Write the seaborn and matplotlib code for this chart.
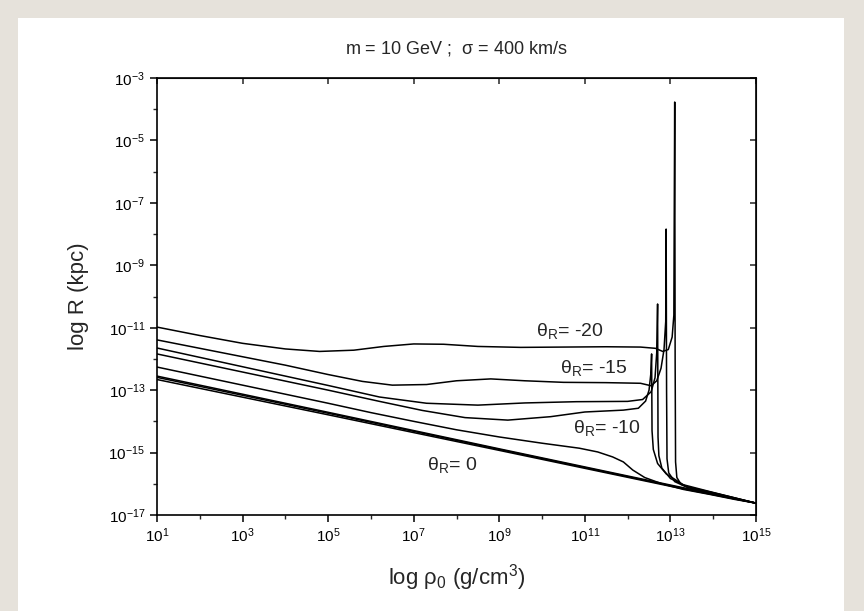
import numpy as np
import pandas as pd
import matplotlib
matplotlib.use("Agg")
import matplotlib.pyplot as plt
import matplotlib.patches as patches
import seaborn as sns
from matplotlib.ticker import FixedLocator, FuncFormatter, NullFormatter

# log10(rho0 [g/cm3]) and log10(R [kpc]), one pair per theta_R
lx_m20 = [1, 2, 3, 4, 4.8, 5.6, 6.3, 7.0, 7.7, 8.5, 9.5, 10.5, 11.5, 12.3, 12.65, 12.82,
          12.95, 13.04, 13.08, 13.1, 13.11, 13.12, 13.15, 13.25, 13.5, 13.92, 14.5, 15]
ly_m20 = [-10.98, -11.25, -11.5, -11.68, -11.76, -11.72, -11.6, -11.52, -11.53, -11.6, -11.63,
          -11.62, -11.61, -11.62, -11.66, -11.76, -11.7, -11.3, -10.6, -3.77, -12.0, -15.3,
          -15.8, -16.02, -16.15, -16.28, -16.47, -16.62]

lx_m15 = [1, 2, 3, 4, 5, 5.8, 6.5, 7.3, 8.0, 8.8, 9.6, 10.5, 11.5, 12.3, 12.55, 12.68, 12.78,
          12.85, 12.89, 12.9, 12.91, 12.92, 12.96, 13.1, 13.4, 13.92, 14.5, 15]
ly_m15 = [-11.39, -11.66, -11.93, -12.2, -12.5, -12.72, -12.84, -12.82, -12.7, -12.64, -12.7,
          -12.75, -12.76, -12.78, -12.86, -12.7, -12.3, -11.7, -10.8, -7.84, -13.0, -15.2,
          -15.65, -15.93, -16.12, -16.27, -16.46, -16.62]

lx_m12 = [1, 2, 3, 4, 5, 6.2, 7.3, 8.5, 9.6, 10.8, 12.0, 12.35, 12.55, 12.64, 12.68, 12.7,
          12.71, 12.73, 12.8, 13.0, 13.4, 13.92, 14.5, 15]
ly_m12 = [-11.65, -11.95, -12.25, -12.55, -12.85, -13.22, -13.42, -13.48, -13.41, -13.37,
          -13.36, -13.3, -13.05, -12.6, -11.8, -10.24, -14.5, -15.1, -15.5, -15.83, -16.1,
          -16.26, -16.45, -16.62]

lx_m10 = [1, 2, 3, 4, 5, 6.2, 7.2, 8.2, 9.2, 10.2, 11.0, 11.9, 12.25, 12.42, 12.5, 12.54,
          12.56, 12.57, 12.6, 12.7, 12.9, 13.3, 13.92, 14.5, 15]
ly_m10 = [-11.84, -12.13, -12.42, -12.71, -13.0, -13.36, -13.65, -13.88, -13.96, -13.85,
          -13.7, -13.64, -13.58, -13.35, -13.0, -12.5, -11.84, -14.3, -14.9, -15.35, -15.68,
          -16.03, -16.25, -16.45, -16.62]

lx_m5 = [1, 2, 3, 4, 5, 6, 7, 8, 9, 10, 10.87, 11.3, 11.65, 11.9, 12.12, 12.4, 12.8, 13.3,
         13.92, 14.5, 15]
ly_m5 = [-12.26, -12.55, -12.84, -13.13, -13.42, -13.72, -14.0, -14.27, -14.5, -14.7, -14.86,
         -14.98, -15.14, -15.3, -15.56, -15.8, -16.0, -16.18, -16.34, -16.5, -16.62]

lx_0 = [1, 5, 9, 13, 14, 15]
ly_0a = [-12.55, -13.71, -14.88, -16.04, -16.33, -16.62]
ly_0b = [-12.59, -13.74, -14.9, -16.06, -16.34, -16.62]
ly_0c = [-12.66, -13.79, -14.93, -16.08, -16.35, -16.62]

curves = {
    "-20": (lx_m20, ly_m20),
    "-15": (lx_m15, ly_m15),
    "-12": (lx_m12, ly_m12),
    "-10": (lx_m10, ly_m10),
    "-5": (lx_m5, ly_m5),
    "0a": (lx_0, ly_0a),
    "0b": (lx_0, ly_0b),
    "0c": (lx_0, ly_0c),
}

# curve labels: text, log10 x, log10 y
label_text = ["-20", "-15", "-10", "0"]
label_lx = [9.85, 10.43, 10.73, 7.3]
label_ly = [-11.1, -12.3, -14.2, -15.4]

x_major = [1, 3, 5, 7, 9, 11, 13, 15]
y_major = [-17, -15, -13, -11, -9, -7, -5, -3]

rows = []
for name, (lx, ly) in curves.items():
    for i, (a, b) in enumerate(zip(lx, ly)):
        rows.append({"theta": name, "i": i, "rho": 10.0 ** a, "R": 10.0 ** b})
df = pd.DataFrame(rows)

sns.set_style("white")
plt.rcParams["font.family"] = ["Liberation Sans", "DejaVu Sans"]
plt.rcParams["mathtext.fontset"] = "custom"
plt.rcParams["mathtext.rm"] = "Liberation Sans"
plt.rcParams["mathtext.it"] = "Liberation Sans:italic"

fig = plt.figure(figsize=(8.64, 6.11), dpi=100)
fig.patch.set_facecolor("#e6e2db")
fig.add_artist(patches.Rectangle((18 / 864, 0), 826 / 864, 1 - 18 / 611,
                                 transform=fig.transFigure, facecolor="white",
                                 edgecolor="none", zorder=-5))
ax = fig.add_axes([157 / 864, 1 - 515 / 611, 599 / 864, 437 / 611])
ax.set_xscale("log")
ax.set_yscale("log")

sns.lineplot(data=df, x="rho", y="R", units="theta", estimator=None, sort=False,
             color="black", lw=1.1, ax=ax, legend=False)

ax.set_xlim(1e1, 1e15)
ax.set_ylim(1e-17, 1e-3)

fmt = FuncFormatter(lambda v, p: "$10^{%d}$" % int(round(np.log10(v))))
ax.xaxis.set_major_locator(FixedLocator([10.0 ** e for e in x_major]))
ax.xaxis.set_minor_locator(FixedLocator([10.0 ** (e + 1) for e in x_major[:-1]]))
ax.yaxis.set_major_locator(FixedLocator([10.0 ** e for e in y_major]))
ax.yaxis.set_minor_locator(FixedLocator([10.0 ** (e + 1) for e in y_major[:-1]]))
ax.xaxis.set_major_formatter(fmt)
ax.yaxis.set_major_formatter(fmt)
ax.xaxis.set_minor_formatter(NullFormatter())
ax.yaxis.set_minor_formatter(NullFormatter())
ax.tick_params(which="major", direction="out", length=5, width=1.1, labelsize=11,
               bottom=True, left=True, colors="black")
ax.tick_params(which="minor", direction="out", length=3, width=1.0, bottom=True, left=True)
for s in ax.spines.values():
    s.set_linewidth(1.2)
    s.set_color("black")

# inward ticks on top and right, no labels
top = ax.secondary_xaxis("top")
top.xaxis.set_major_locator(FixedLocator([10.0 ** e for e in x_major]))
top.xaxis.set_minor_locator(FixedLocator([]))
top.tick_params(direction="in", length=4, width=1.1, labeltop=False)
right = ax.secondary_yaxis("right")
right.yaxis.set_major_locator(FixedLocator([10.0 ** e for e in y_major]))
right.yaxis.set_minor_locator(FixedLocator([]))
right.tick_params(direction="in", length=4, width=1.1, labelright=False)

ax.set_xlabel(r"log $\mathregular{\rho_0}$ (g/cm$^\mathregular{3}$)", fontsize=16, labelpad=12)
ax.set_ylabel("log R (kpc)", fontsize=16, labelpad=14)
ax.set_title(r"m = 10 GeV ;  $\mathregular{\sigma}$ = 400 km/s", fontsize=13, pad=18)

for t, a, b in zip(label_text, label_lx, label_ly):
    ax.text(10.0 ** a, 10.0 ** b, r"$\mathregular{\theta_R}$= " + t, fontsize=14,
            ha="left", va="center")

fig.savefig("out.png", dpi=100, facecolor=fig.get_facecolor())
